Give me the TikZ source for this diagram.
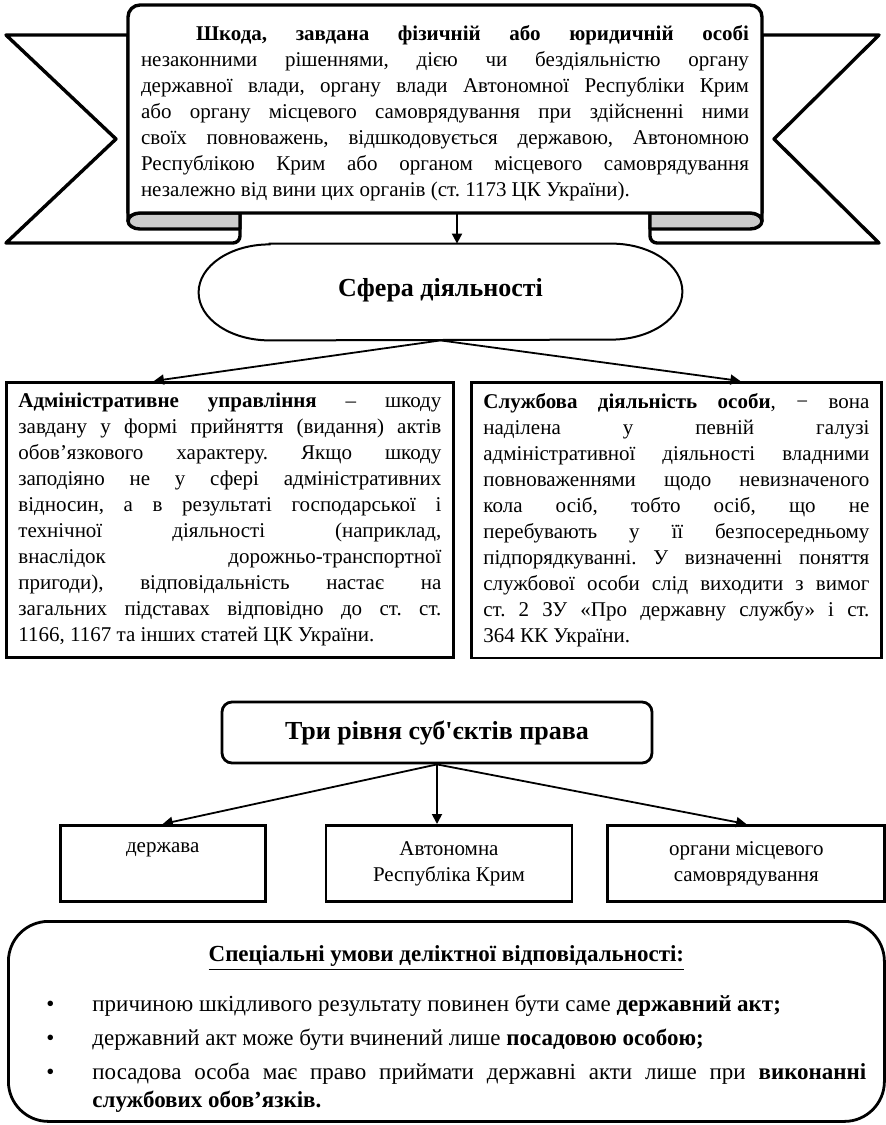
\documentclass[tikz,border=0pt]{standalone}
\usepackage{fontspec}
\setmainfont{Liberation Serif}
\usetikzlibrary{arrows.meta, positioning, calc}
\hyphenpenalty=10000
\exhyphenpenalty=10000
\tolerance=10000
\frenchspacing
\tikzset{
  ribbon/.style={draw, line width=1.7pt, line join=round, fill=white},
  curl/.style={ribbon, fill=gray!40},
  bodytxt/.style={font=\fontsize{10.5pt}{13pt}\selectfont, inner sep=0pt},
  headtxt/.style={font=\fontsize{13pt}{15pt}\selectfont\bfseries, align=center},
  ovalline/.style={draw, line width=1pt},
  bigbox/.style={draw, line width=1.4pt, bodytxt, align=justify,
                 inner xsep=6pt, inner ysep=5.5pt},
  smallbox/.style={draw, line width=1.4pt, bodytxt, align=center,
                   minimum height=38pt, inner sep=4pt},
  arr/.style={-{Triangle[length=5pt,width=5pt]}, line width=0.9pt},
}
\newcommand{\umova}[1]{\par\leftskip=33pt\noindent\llap{\textbullet\hspace{19pt}}#1\par}

\begin{document}
\begin{tikzpicture}[x=0.5pt, y=-0.5pt]
  \useasboundingbox (0,0) rectangle (885,1125);

  % ribbon with curled ends
  \draw[ribbon] (128,35) -- (6,35) -- (116,139) -- (6,243) -- (233,243)
    arc[start angle=90, end angle=0, radius=7] -- (240,213) -- (128,213) -- cycle;
  \draw[ribbon] (762,35) -- (879,35) -- (774,139) -- (879,243) -- (657,243)
    arc[start angle=90, end angle=180, radius=7] -- (650,213) -- (762,213) -- cycle;
  \draw[curl] (240,213) -- (140,213)
    arc[start angle=270, end angle=90, x radius=12, y radius=8] -- (240,229) -- cycle;
  \draw[curl] (650,213) -- (750,213)
    arc[start angle=270, end angle=450, x radius=12, y radius=8] -- (650,229) -- cycle;
  \draw[ribbon] (128,221) arc[start angle=180, end angle=270, x radius=12, y radius=8]
    -- (750,213) arc[start angle=270, end angle=360, x radius=12, y radius=8]
    -- (762,17) arc[start angle=0, end angle=-90, radius=12]
    -- (140,5) arc[start angle=-90, end angle=-180, radius=12] -- cycle;

  \node[bodytxt, align=justify, text width=304pt, anchor=north] (shkoda) at (445,25)
    {\hspace*{27.5pt}\textbf{Шкода, завдана фізичній або юридичній особі}\linebreak
     незаконними рішеннями, дією чи бездіяльністю органу\linebreak
     державної влади, органу влади Автономної Республіки Крим\linebreak
     або органу місцевого самоврядування при здійсненні ними\linebreak
     своїх повноважень, відшкодовується державою, Автономною\linebreak
     Республікою Крим або органом місцевого самоврядування\linebreak
     незалежно від вини цих органів (ст. 1173 ЦК України).};
  \coordinate (panelbot) at (457,213);

  \node[headtxt, minimum width=241.5pt, minimum height=48pt] (sfera) at (440.5,292)
    {\raisebox{4.5pt}{Сфера діяльності}};
  \draw[ovalline] ($(sfera.north west)+(71,0)$) -- ($(sfera.north east)+(-71,0)$)
    arc[start angle=-90, end angle=90, x radius=71, y radius=48]
    -- ($(sfera.south west)+(71,0)$)
    arc[start angle=90, end angle=270, x radius=71, y radius=48] -- cycle;

  \node[bigbox, text width=211.5pt, anchor=north west] (adm) at (5,381)
    {\textbf{Адміністративне управління} – шкоду\linebreak
     завдану у формі прийняття (видання) актів\linebreak
     обов’язкового характеру. Якщо шкоду\linebreak
     заподіяно не у сфері адміністративних\linebreak
     відносин, а в результаті господарської і\linebreak
     технічної діяльності (наприклад,\linebreak
     внаслідок дорожньо-транспортної\linebreak
     пригоди), відповідальність настає на\linebreak
     загальних підставах відповідно до ст. ст.\linebreak
     1166, 1167 та інших статей ЦК України.};
  \node[bigbox, text width=193pt, anchor=north west] (sluzh) at (470,381)
    {\textbf{Службова діяльність особи}, − вона\linebreak
     наділена у певній галузі\linebreak
     адміністративної діяльності владними\linebreak
     повноваженнями щодо невизначеного\linebreak
     кола осіб, тобто осіб, що не\linebreak
     перебувають у її безпосередньому\linebreak
     підпорядкуванні. У визначенні поняття\linebreak
     службової особи слід виходити з вимог\linebreak
     ст. 2 ЗУ «Про державну службу» і ст.\linebreak
     364 КК України.};

  \node[headtxt, draw, line width=1.4pt, rounded corners=5pt,
        minimum width=215pt, minimum height=30.5pt] (tririvni) at (437,732.5)
    {\raisebox{2.5pt}{Три рівня суб\textquotesingle єктів права}};
  \node[smallbox, minimum width=123pt, anchor=north] (arkrym) at (449,824)
    {Автономна\\Республіка Крим};
  \node[smallbox, minimum width=102.5pt, text depth=16pt, left=29pt of arkrym] (derzh)
    {держава};
  \node[smallbox, minimum width=138.5pt, right=16.5pt of arkrym] (orgmisc)
    {органи місцевого\\самоврядування};

  \node[bigbox, font=\fontsize{11.5pt}{14pt}\selectfont, rounded corners=20pt,
        text width=420pt, inner xsep=9pt, inner ysep=4.5pt, minimum height=100pt,
        anchor=north west] (umovy) at (7,920)
    {{\centering\rule{0pt}{15.5pt}\underline{\textbf{Спеціальні умови деліктної відповідальності:}}\par}
     \vspace{11pt}
     \umova{причиною шкідливого результату повинен бути саме \textbf{державний акт;}}
     \vspace{3pt}
     \umova{державний акт може бути вчинений лише \textbf{посадовою особою;}}
     \vspace{3pt}
     \umova{посадова особа має право приймати державні акти лише при
       \textbf{виконанні}\linebreak \textbf{службових обов’язків.}}};

  \draw[arr] (panelbot) -- (panelbot |- sfera.north);
  \draw[arr] (sfera.south) -- ($(adm.north)+(-76,0)$);
  \draw[arr] (sfera.south) -- ($(sluzh.north)+(64,0)$);
  \draw[arr] (tririvni.south) -- (derzh.north);
  \draw[arr] (tririvni.south) -- (tririvni.south |- arkrym.north);
  \draw[arr] (tririvni.south) -- (orgmisc.north);
\end{tikzpicture}
\end{document}
